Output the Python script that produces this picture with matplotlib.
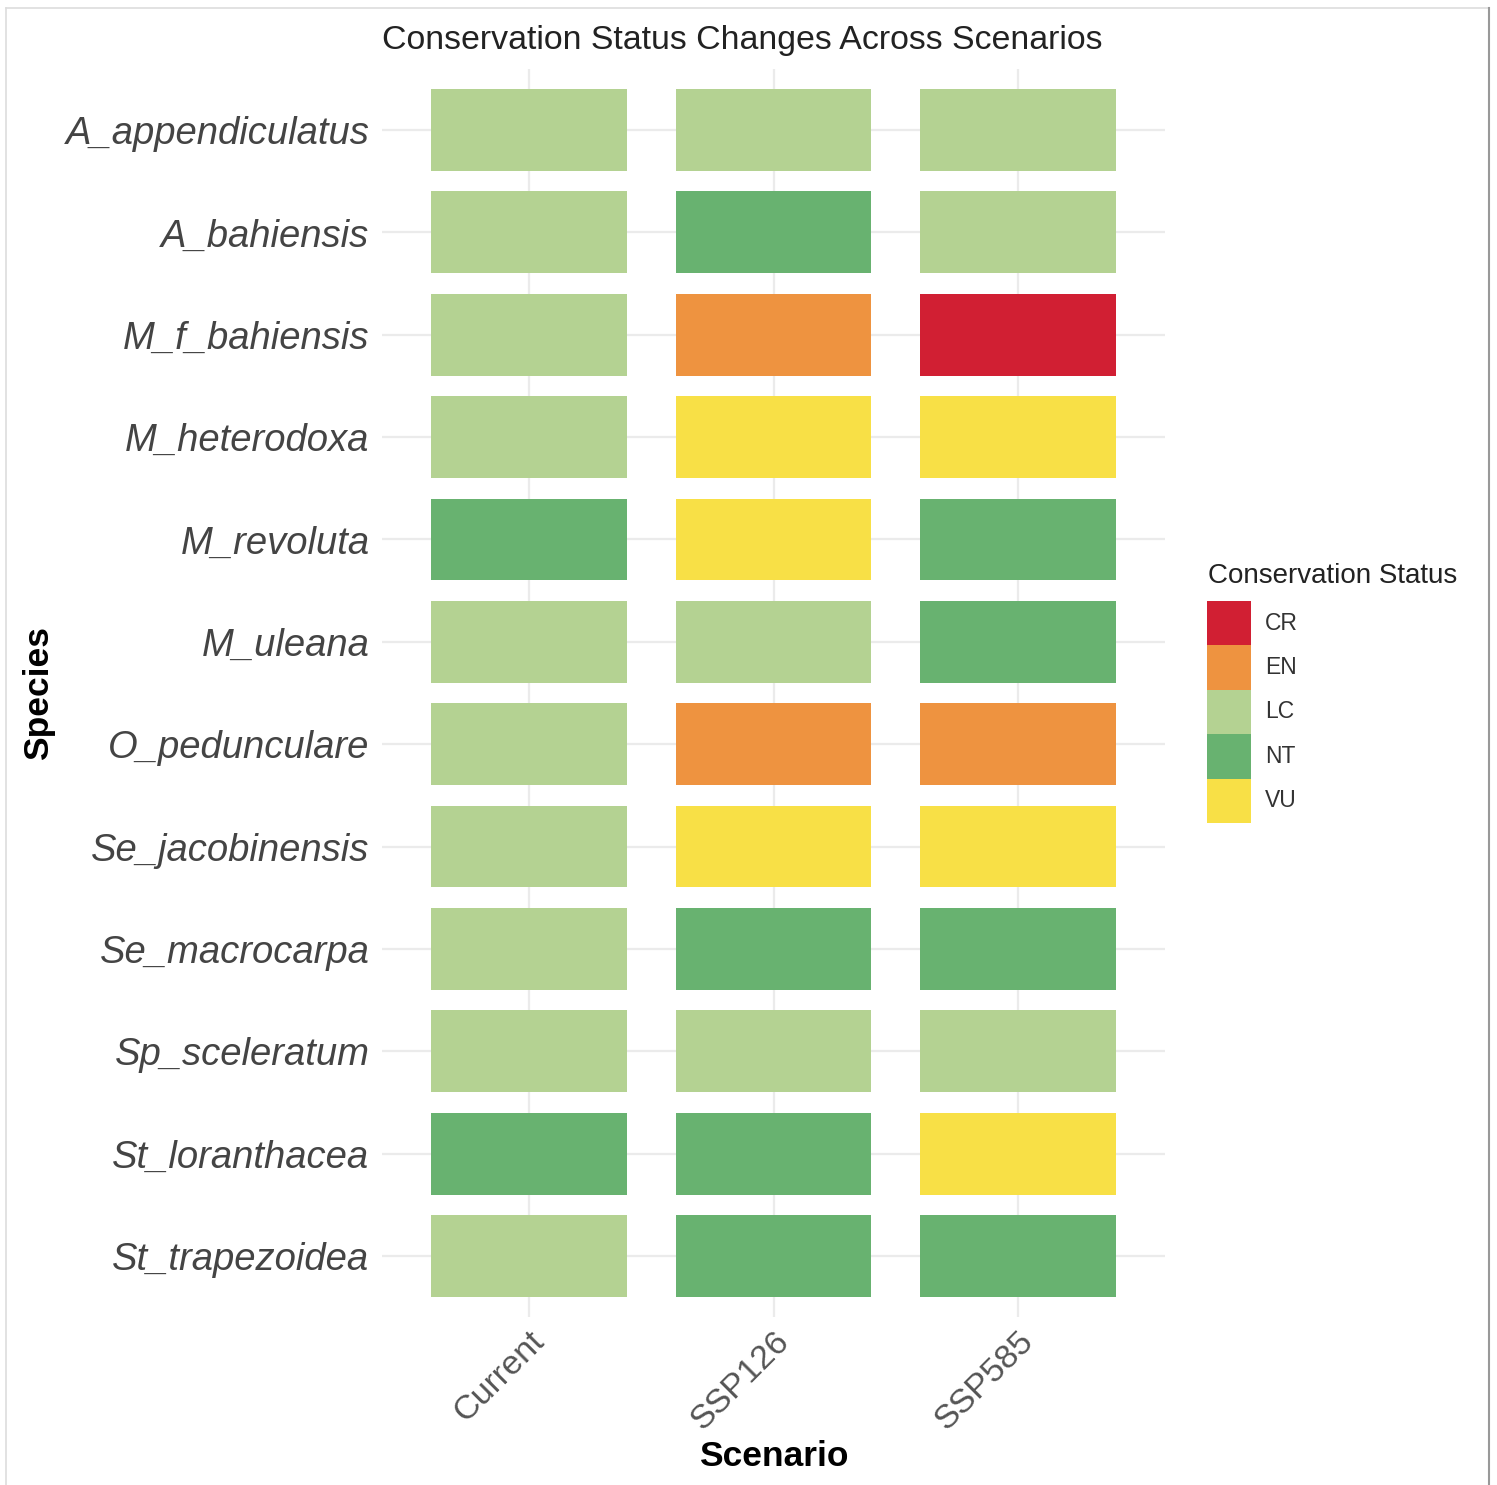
import matplotlib

matplotlib.use("Agg")
import matplotlib.pyplot as plt
from matplotlib.lines import Line2D

plt.rcParams["font.family"] = ["Liberation Sans", "DejaVu Sans"]

species = [
    "A_appendiculatus", "A_bahiensis", "M_f_bahiensis", "M_heterodoxa",
    "M_revoluta", "M_uleana", "O_pedunculare", "Se_jacobinensis",
    "Se_macrocarpa", "Sp_sceleratum", "St_loranthacea", "St_trapezoidea",
]
scenarios = ["Current", "SSP126", "SSP585"]
status_current = ["LC", "LC", "LC", "LC", "NT", "LC", "LC", "LC", "LC", "LC", "NT", "LC"]
status_ssp126 = ["LC", "NT", "EN", "VU", "VU", "LC", "EN", "VU", "NT", "LC", "NT", "NT"]
status_ssp585 = ["LC", "LC", "CR", "VU", "NT", "NT", "EN", "VU", "NT", "LC", "VU", "NT"]
statuses = ["CR", "EN", "LC", "NT", "VU"]
status_colors = {
    "CR": "#D11F33",
    "EN": "#EE9340",
    "LC": "#B4D292",
    "NT": "#68B270",
    "VU": "#F8E046",
}

W, H = 1497, 1485
fig = plt.figure(figsize=(W / 100, H / 100), dpi=100)

# main panel
px_left, px_right, px_top, px_bottom = 382, 1165, 68.6, 1317.4
ax = fig.add_axes([px_left / W, 1 - px_bottom / H, (px_right - px_left) / W, (px_bottom - px_top) / H])
ypos = list(range(len(species)))
for i, col in enumerate([status_current, status_ssp126, status_ssp585]):
    ax.barh(ypos, [0.8] * len(species), left=i + 1 - 0.4, height=0.8,
            color=[status_colors[s] for s in col], zorder=2)

ax.set_xlim(0.4, 3.6)
ax.set_ylim(len(species) - 0.4, -0.6)
ax.set_xticks([1, 2, 3])
ax.set_xticklabels(scenarios, rotation=45, ha="right", rotation_mode="anchor",
                   fontsize=24.5, color="#555555")
ax.set_yticks(ypos)
ax.set_yticklabels(species, fontsize=27.5, style="italic", color="#444444")
ax.tick_params(length=0)
ax.tick_params(axis="y", pad=9)
ax.tick_params(axis="x", pad=6)
ax.grid(True, color="#EBEBEB", linewidth=1.6, zorder=0)
for sp in ax.spines.values():
    sp.set_visible(False)
pw, ph = px_right - px_left, px_bottom - px_top
ax.set_xlabel("Scenario", fontsize=25.5, fontweight="bold")
ax.xaxis.set_label_coords(0.5, (px_bottom - 1440) / ph)
ax.set_ylabel("Species", fontsize=25.5, fontweight="bold")
ax.yaxis.set_label_coords((55 - px_left) / pw, 0.5)
ax.set_title("Conservation Status Changes Across Scenarios", loc="left",
             fontsize=24.4, pad=14, color="#222222")

# legend
lax = fig.add_axes([1207 / W, 1 - 823 / H, 44 / W, 222 / H])
lax.barh(range(len(statuses)), [1] * len(statuses), height=1.0,
         color=[status_colors[s] for s in statuses])
lax.set_xlim(0, 1)
lax.set_ylim(len(statuses) - 0.5, -0.5)
lax.axis("off")
for i, s in enumerate(statuses):
    lax.text(1.32, i, s, fontsize=16.5, va="center", ha="left", color="#333333",
             transform=lax.get_yaxis_transform())
fig.text(1208 / W, 1 - 576 / H, "Conservation Status", fontsize=20,
         ha="left", va="center", color="#222222")

# frame around image
fig.add_artist(Line2D([6 / W, 6 / W], [0, 1 - 8 / H], color="#DDDDDD", linewidth=1.2))
fig.add_artist(Line2D([6 / W, 1489 / W], [1 - 8 / H, 1 - 8 / H], color="#DDDDDD", linewidth=1.2))
fig.add_artist(Line2D([1489 / W, 1489 / W], [0, 1 - 8 / H], color="#999999", linewidth=1.5))

fig.savefig("out.png", dpi=100, facecolor="white")
